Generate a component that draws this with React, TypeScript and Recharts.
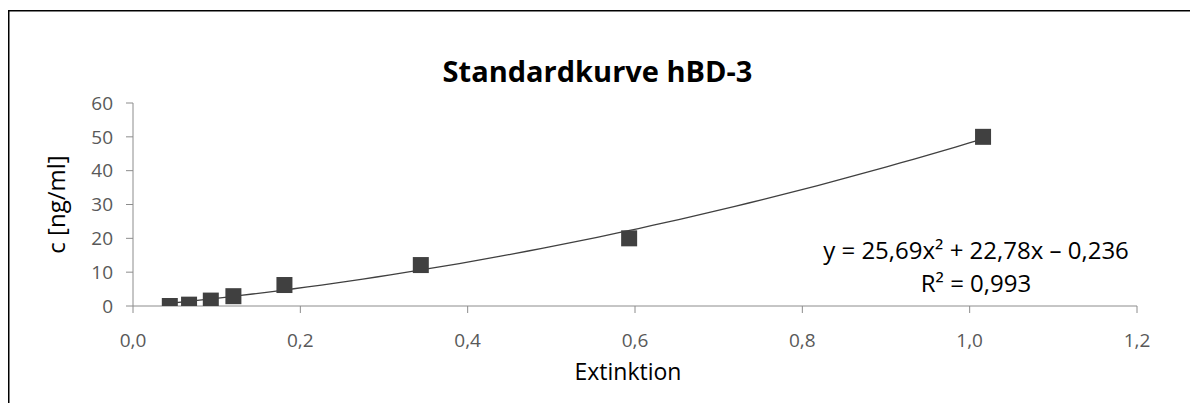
import React from 'react';
import { ScatterChart, Scatter, XAxis, YAxis, Label } from 'recharts';

const extinktion = [0.044, 0.067, 0.093, 0.12, 0.181, 0.344, 0.593, 1.016];
const konzentration = [0, 0.4, 1.6, 2.9, 6.2, 12.1, 20, 50];
const xTicks = [0, 0.2, 0.4, 0.6, 0.8, 1.0, 1.2];
const yTicks = [0, 10, 20, 30, 40, 50, 60];
const trendCoefA = 25.69;
const trendCoefB = 22.78;
const trendCoefC = -0.236;
const titleText = 'Standardkurve hBD-3';
const xLabelText = 'Extinktion';
const yLabelText = 'c [ng/ml]';
const equationText = 'y = 25,69x² + 22,78x – 0,236';
const r2Text = 'R² = 0,993';

const points = extinktion.map((x, i) => ({ x, y: konzentration[i] }));

// Polynomial trendline as printed on the chart, evaluated over the data range
const xMin = extinktion[0];
const xMax = extinktion[extinktion.length - 1];
const trend = Array.from({ length: 60 }, (_, i) => {
  const x = xMin + ((xMax - xMin) * i) / 59;
  return { x, y: trendCoefA * x * x + trendCoefB * x + trendCoefC };
});

const W = 1190;
const H = 395;
const FONT = "'Open Sans', sans-serif";

const fmt = (v: number) => v.toFixed(1).replace('.', ',');

const Square = (props: any) => {
  const { cx, cy } = props;
  if (cx == null || cy == null) return null;
  return <rect x={cx - 8} y={cy - 8} width={16} height={16} fill="#404040" />;
};

const NoShape = () => null;

export default function App() {
  return (
    <div style={{ position: 'relative', width: W, height: H }}>
      <ScatterChart
        width={W}
        height={H}
        margin={{ top: 95, right: 61, left: 0, bottom: 67 }}
      >
        <XAxis
          type="number"
          dataKey="x"
          domain={[0, 1.2]}
          ticks={xTicks}
          tickFormatter={fmt}
          stroke="#8c8c8c"
          tickSize={7}
          tickMargin={21}
          tick={{ fill: '#595959', fontSize: 19, fontFamily: FONT }}
          height={30}
          allowDataOverflow
        >
          <Label
            content={(p: any) => {
              const vb = p.viewBox || {};
              return (
                <text
                  x={vb.x + vb.width / 2 - 7}
                  y={vb.y + 74}
                  textAnchor="middle"
                  fontSize={23}
                  fontFamily={FONT}
                  fill="#000"
                >
                  {xLabelText}
                </text>
              );
            }}
          />
        </XAxis>
        <YAxis
          type="number"
          dataKey="y"
          domain={[0, 60]}
          ticks={yTicks}
          stroke="#8c8c8c"
          tickSize={7}
          tickMargin={13}
          tick={{ fill: '#595959', fontSize: 19, fontFamily: FONT }}
          width={125}
          allowDataOverflow
        >
          <Label
            content={(p: any) => {
              const vb = p.viewBox || {};
              const cx = vb.x + 57;
              const cy = vb.y + vb.height / 2;
              return (
                <text
                  x={cx}
                  y={cy}
                  transform={`rotate(-90 ${cx} ${cy})`}
                  textAnchor="middle"
                  fontSize={24}
                  fontFamily={FONT}
                  fill="#000"
                >
                  {yLabelText}
                </text>
              );
            }}
          />
        </YAxis>
        <Scatter
          data={trend}
          line={{ stroke: '#404040', strokeWidth: 1.3 }}
          lineType="joint"
          shape={NoShape}
          isAnimationActive={false}
        />
        <Scatter data={points} shape={Square} isAnimationActive={false} />
      </ScatterChart>
      <svg
        width={W}
        height={H}
        style={{ position: 'absolute', left: 0, top: 0, pointerEvents: 'none' }}
      >
        <line x1={0} y1={2.75} x2={W} y2={2.75} stroke="#000" strokeWidth={1.5} />
        <line x1={0.75} y1={2} x2={0.75} y2={H} stroke="#000" strokeWidth={1.5} />
        <text
          x={589.5}
          y={74}
          textAnchor="middle"
          fontSize={29}
          fontWeight="bold"
          fontFamily={FONT}
          fill="#000"
        >
          {titleText}
        </text>
        <text x={968} y={251} textAnchor="middle" fontSize={24} fontFamily={FONT} fill="#000">
          {equationText}
        </text>
        <text x={968} y={283.7} textAnchor="middle" fontSize={24} fontFamily={FONT} fill="#000">
          {r2Text}
        </text>
      </svg>
    </div>
  );
}
